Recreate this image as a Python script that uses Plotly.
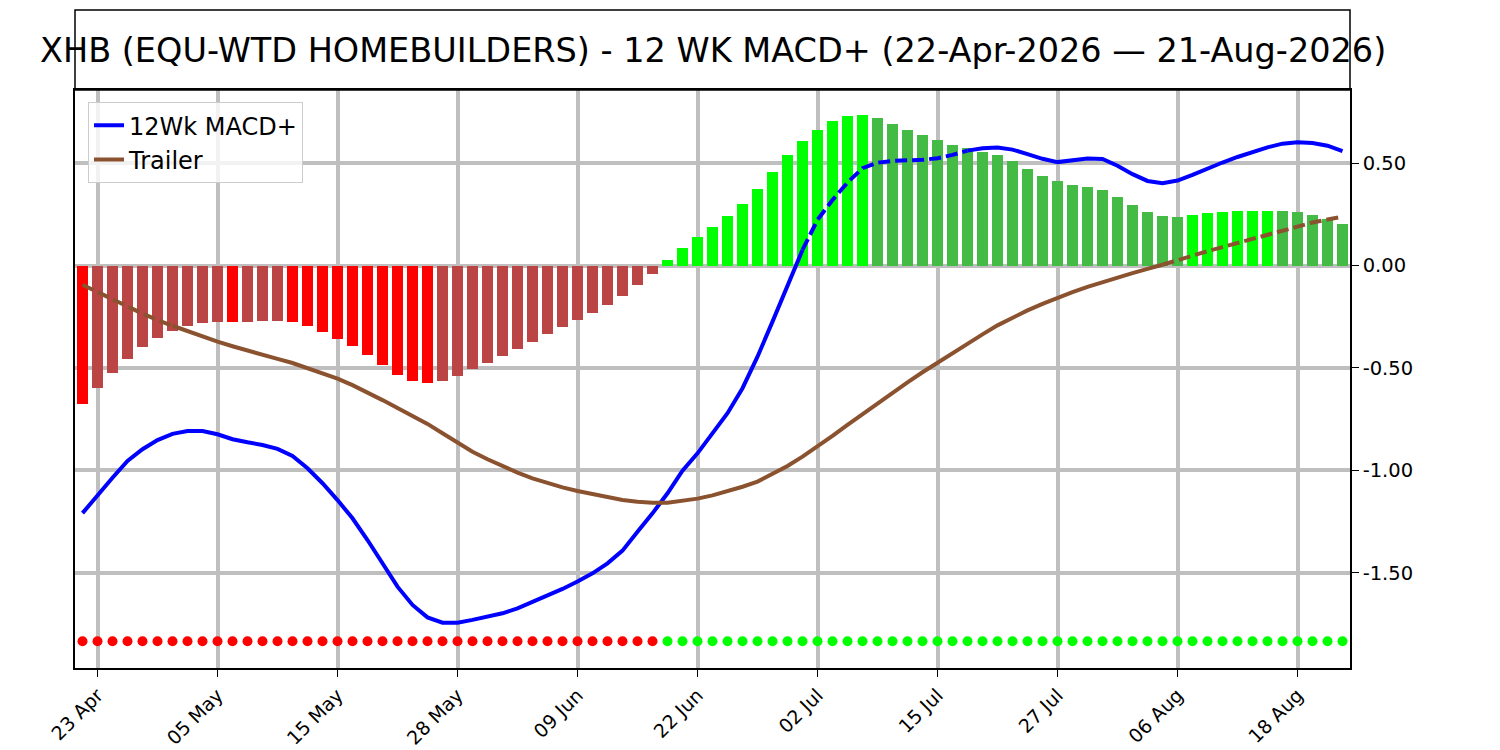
import plotly.graph_objects as go

# trading days shown on the chart
dates = [
    "2026-04-22", "2026-04-23", "2026-04-24", "2026-04-27", "2026-04-28", "2026-04-29", "2026-04-30",
    "2026-05-01", "2026-05-04", "2026-05-05", "2026-05-06", "2026-05-07", "2026-05-08", "2026-05-11",
    "2026-05-12", "2026-05-13", "2026-05-14", "2026-05-15", "2026-05-18", "2026-05-19", "2026-05-20",
    "2026-05-21", "2026-05-22", "2026-05-26", "2026-05-27", "2026-05-28", "2026-05-29", "2026-06-01",
    "2026-06-02", "2026-06-03", "2026-06-04", "2026-06-05", "2026-06-08", "2026-06-09", "2026-06-10",
    "2026-06-11", "2026-06-12", "2026-06-15", "2026-06-16", "2026-06-17", "2026-06-18", "2026-06-22",
    "2026-06-23", "2026-06-24", "2026-06-25", "2026-06-26", "2026-06-29", "2026-06-30", "2026-07-01",
    "2026-07-02", "2026-07-06", "2026-07-07", "2026-07-08", "2026-07-09", "2026-07-10", "2026-07-13",
    "2026-07-14", "2026-07-15", "2026-07-16", "2026-07-17", "2026-07-20", "2026-07-21", "2026-07-22",
    "2026-07-23", "2026-07-24", "2026-07-27", "2026-07-28", "2026-07-29", "2026-07-30", "2026-07-31",
    "2026-08-03", "2026-08-04", "2026-08-05", "2026-08-06", "2026-08-07", "2026-08-10", "2026-08-11",
    "2026-08-12", "2026-08-13", "2026-08-14", "2026-08-17", "2026-08-18", "2026-08-19", "2026-08-20",
    "2026-08-21",
]

tick_dates = ["2026-04-23", "2026-05-05", "2026-05-15", "2026-05-28", "2026-06-09", "2026-06-22",
              "2026-07-02", "2026-07-15", "2026-07-27", "2026-08-06", "2026-08-18"]
tick_labels = ["23 Apr", "05 May", "15 May", "28 May", "09 Jun", "22 Jun",
               "02 Jul", "15 Jul", "27 Jul", "06 Aug", "18 Aug"]

y_ticks = [0.5, 0.0, -0.5, -1.0, -1.5]

histogram = [
    -0.675, -0.597, -0.524, -0.456, -0.399, -0.354, -0.320, -0.297, -0.282, -0.276,
    -0.278, -0.276, -0.271, -0.270, -0.276, -0.295, -0.325, -0.359, -0.394, -0.438,
    -0.485, -0.536, -0.565, -0.575, -0.565, -0.541, -0.505, -0.477, -0.443, -0.407,
    -0.375, -0.336, -0.302, -0.268, -0.232, -0.193, -0.151, -0.097, -0.039, 0.025,
    0.084, 0.141, 0.190, 0.244, 0.298, 0.372, 0.457, 0.539, 0.608, 0.662,
    0.707, 0.731, 0.736, 0.721, 0.692, 0.662, 0.638, 0.613, 0.589, 0.572,
    0.556, 0.540, 0.511, 0.472, 0.438, 0.413, 0.393, 0.384, 0.369, 0.334,
    0.295, 0.261, 0.241, 0.236, 0.246, 0.256, 0.261, 0.264, 0.266, 0.267,
    0.266, 0.261, 0.246, 0.226, 0.202,
]

macd = [
    -1.209, -1.120, -1.036, -0.954, -0.897, -0.852, -0.822, -0.808, -0.808, -0.824,
    -0.848, -0.863, -0.876, -0.895, -0.930, -0.990, -1.063, -1.145, -1.234, -1.340,
    -1.454, -1.568, -1.657, -1.718, -1.744, -1.744, -1.730, -1.714, -1.698, -1.674,
    -1.644, -1.612, -1.579, -1.543, -1.503, -1.454, -1.392, -1.300, -1.210, -1.112,
    -1.002, -0.917, -0.816, -0.721, -0.599, -0.445, -0.274, -0.103, 0.076, 0.223,
    0.320, 0.405, 0.475, 0.502, 0.511, 0.512, 0.516, 0.524, 0.540, 0.561,
    0.573, 0.576, 0.566, 0.544, 0.521, 0.505, 0.513, 0.523, 0.520, 0.487,
    0.446, 0.413, 0.402, 0.415, 0.443, 0.475, 0.503, 0.530, 0.554, 0.577,
    0.595, 0.602, 0.598, 0.585, 0.559,
]

trailer = [
    -0.094, -0.130, -0.168, -0.202, -0.235, -0.266, -0.294, -0.321, -0.347, -0.372,
    -0.394, -0.416, -0.437, -0.456, -0.476, -0.500, -0.524, -0.552, -0.584, -0.619,
    -0.657, -0.696, -0.734, -0.773, -0.819, -0.865, -0.909, -0.946, -0.979, -1.011,
    -1.039, -1.063, -1.083, -1.101, -1.117, -1.132, -1.145, -1.153, -1.158, -1.158,
    -1.149, -1.138, -1.122, -1.102, -1.080, -1.055, -1.019, -0.979, -0.933, -0.884,
    -0.832, -0.778, -0.725, -0.672, -0.620, -0.570, -0.521, -0.474, -0.428, -0.383,
    -0.336, -0.292, -0.254, -0.219, -0.187, -0.157, -0.130, -0.104, -0.080, -0.058,
    -0.037, -0.016, 0.004, 0.027, 0.050, 0.070, 0.090, 0.110, 0.131, 0.153,
    0.175, 0.193, 0.210, 0.225, 0.238,
]

signal_level = -1.834

# (start, end, dashed) index spans for each line
macd_spans = [(0, 48, False), (48, 59, True), (59, 84, False)]
trailer_spans = [(6, 72, False), (0, 6, True), (72, 84, True)]

title = "XHB (EQU-WTD HOMEBUILDERS) - 12 WK MACD+ (22-Apr-2026 \u2014 21-Aug-2026)"

BLUE = "#0000FF"
BROWN = "#8B5230"

bar_colors = []
for i, v in enumerate(histogram):
    prev = histogram[i - 1] if i > 0 else None
    if v < 0:
        bright = prev is None or v <= prev
        bar_colors.append("#FF0000" if bright else "#BB4444")
    else:
        bright = prev is None or v >= prev
        bar_colors.append("#00FF00" if bright else "#44BB44")

dot_colors = ["#FF0000" if v < 0 else "#00FF00" for v in histogram]

fig = go.Figure()

fig.add_trace(go.Bar(x=dates, y=histogram, marker=dict(color=bar_colors, line=dict(width=0)),
                     width=0.7, showlegend=False, hoverinfo="skip"))


def add_line(values, spans, color, name):
    first = True
    for s, e, dashed in spans:
        fig.add_trace(go.Scatter(
            x=dates[s:e + 1], y=values[s:e + 1], mode="lines",
            line=dict(color=color, width=4, dash="12px,5px" if dashed else "solid"),
            name=name, legendgroup=name, showlegend=first))
        first = False


add_line(macd, macd_spans, BLUE, "12Wk MACD+")
add_line(trailer, trailer_spans, BROWN, "Trailer")

fig.add_trace(go.Scatter(x=dates, y=[signal_level] * len(dates), mode="markers",
                         marker=dict(color=dot_colors, size=10, line=dict(width=0)),
                         showlegend=False))

# title box above the plot area
fig.add_shape(type="rect", xref="paper", yref="paper", x0=0, x1=1, y0=1, y1=1.1384,
              line=dict(color="black", width=1.5))
fig.add_annotation(text=title, xref="paper", yref="paper", x=0.5, y=1.069,
                   showarrow=False, xanchor="center", yanchor="middle",
                   font=dict(size=33.5, color="black"))

fig.update_layout(
    width=1492, height=742,
    margin=dict(l=67, r=150, t=82, b=82, autoexpand=False),
    paper_bgcolor="white", plot_bgcolor="white",
    font=dict(family="DejaVu Sans", color="black"),
    bargap=0,
    legend=dict(x=0.0102, y=0.979, xanchor="left", yanchor="top",
                bgcolor="rgba(255,255,255,0.8)", bordercolor="#cccccc", borderwidth=1,
                font=dict(size=24), itemwidth=30, tracegroupgap=0),
)

fig.update_xaxes(
    type="category", range=[-0.5, 84.5],
    tickmode="array", tickvals=tick_dates, ticktext=tick_labels, tickangle=-45,
    tickfont=dict(size=19), ticks="outside", ticklen=7, tickwidth=1.3, tickcolor="black",
    showgrid=True, gridcolor="#bfbfbf", gridwidth=4,
    showline=True, mirror=True, linecolor="black", linewidth=1.5, zeroline=False,
)

fig.update_yaxes(
    side="right", range=[-1.965, 0.857],
    tickmode="array", tickvals=y_ticks, ticktext=["%.2f" % v for v in y_ticks],
    tickfont=dict(size=19.5), ticks="outside", ticklen=7, tickwidth=1.3, tickcolor="black",
    showgrid=True, gridcolor="#bfbfbf", gridwidth=4,
    showline=True, mirror=True, linecolor="black", linewidth=1.5, zeroline=False,
)

fig.write_html("out.html")
